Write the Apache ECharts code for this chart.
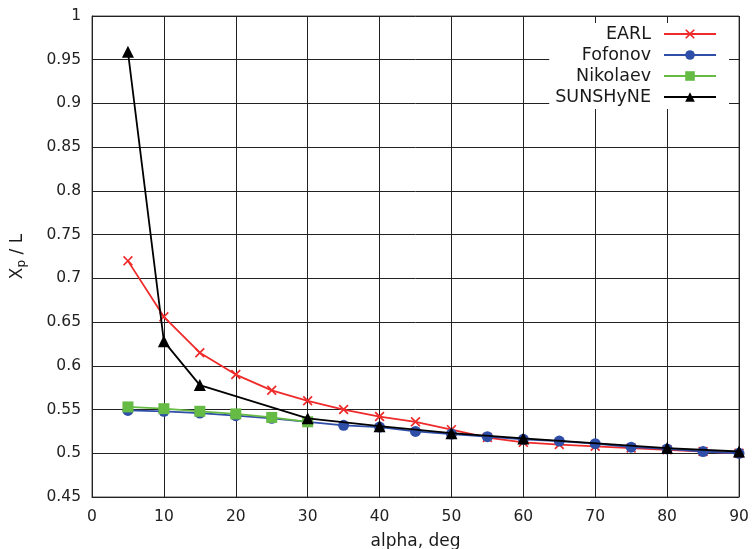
<!DOCTYPE html>
<html><head><meta charset="utf-8">
<script src="https://cdn.jsdelivr.net/npm/echarts@6/dist/echarts.min.js"></script>
<style>html,body{margin:0;padding:0;background:#fff;overflow:hidden}#c{width:752px;height:549px}</style>
</head><body><div id="c"></div>
<script>
const xAll = [5,10,15,20,25,30,35,40,45,50,55,60,65,70,75,80,85,90];
const earl = [0.720,0.656,0.615,0.590,0.572,0.560,0.550,0.542,0.536,0.527,0.518,0.5125,0.510,0.508,0.506,0.504,0.502,0.500];
const fofonov = [0.549,0.548,0.546,0.543,0.540,0.536,0.532,0.530,0.525,0.522,0.519,0.516,0.514,0.511,0.507,0.505,0.502,0.500];
const nikX = [5,10,15,20,25,30];
const nikolaev = [0.553,0.551,0.548,0.545,0.541,0.536];
const sunX = [5,10,15,30,40,50,60,80,90];
const sunshyne = [0.959,0.628,0.578,0.540,0.531,0.523,0.517,0.506,0.502];
const xTicks = [0,10,20,30,40,50,60,70,80,90];

const pair = (xs, ys) => xs.map((x,i)=>[x, ys[i]]);
const crossPath = 'path://M0,1.2L1.2,0L5,3.8L8.8,0L10,1.2L6.2,5L10,8.8L8.8,10L5,6.2L1.2,10L0,8.8L3.8,5Z';
const font = 'DejaVu Sans';
const chart = echarts.init(document.getElementById('c'), null, {renderer:'canvas'});
chart.setOption({
  animation:false,
  backgroundColor:'#fff',
  textStyle:{fontFamily:font},
  grid:{left:92,right:13,top:16,bottom:52,show:true,borderColor:'#555',borderWidth:1,
    outerBoundsMode:'none',containLabel:false},
  legend:{
    orient:'vertical', right:23, top:23, align:'right',
    backgroundColor:'#fff', padding:[2,12,3,6],
    itemWidth:52, itemHeight:12, itemGap:3,
    textStyle:{fontFamily:font, fontSize:17.5, color:'#1a1a1a', padding:[0,8,0,0]},
    data:['EARL','Fofonov','Nikolaev','SUNSHyNE']
  },
  xAxis:{type:'value',min:0,max:90,interval:10,
    name:'alpha, deg',nameLocation:'middle',nameGap:36,
    nameTextStyle:{fontFamily:font,fontSize:17,color:'#1a1a1a'},
    axisLine:{show:true,lineStyle:{color:'#222',width:1}},
    axisTick:{show:false},
    axisLabel:{fontFamily:font,fontSize:15.5,color:'#222',margin:12},
    splitLine:{show:true,lineStyle:{color:'#222',width:1}}},
  yAxis:{type:'value',min:0.45,max:1,interval:0.05,
    name:'{x|X}{p|p}{x| / L}',nameLocation:'middle',nameGap:64,
    nameTextStyle:{fontFamily:font,fontSize:17,color:'#1a1a1a',
      rich:{x:{fontFamily:font,fontSize:17,color:'#1a1a1a'},p:{fontFamily:font,fontSize:12,color:'#1a1a1a',padding:[8,0,0,0]}}},
    axisLine:{show:true,lineStyle:{color:'#222',width:1}},
    axisTick:{show:false},
    axisLabel:{fontFamily:font,fontSize:15.5,color:'#222',margin:11},
    splitLine:{show:true,lineStyle:{color:'#222',width:1}}},
  series:[
    {name:'EARL',type:'line',data:pair(xAll,earl),symbol:crossPath,symbolSize:10,
      lineStyle:{color:'#ee2a2a',width:1.8},itemStyle:{color:'#ee2a2a'},z:2},
    {name:'Fofonov',type:'line',data:pair(xAll,fofonov),symbol:'circle',symbolSize:11,
      lineStyle:{color:'#2f4ea8',width:1.8},itemStyle:{color:'#2f4ea8'},z:3},
    {name:'Nikolaev',type:'line',data:pair(nikX,nikolaev),symbol:'rect',symbolSize:11,
      lineStyle:{color:'#66bb44',width:1.8},itemStyle:{color:'#66bb44'},z:4},
    {name:'SUNSHyNE',type:'line',data:pair(sunX,sunshyne),symbol:'triangle',symbolSize:12,
      lineStyle:{color:'#000',width:1.8},itemStyle:{color:'#000'},z:5}
  ]
});
</script></body></html>
